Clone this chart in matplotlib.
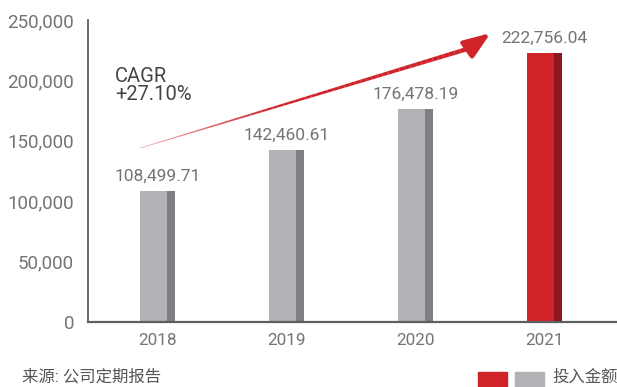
import numpy as np
import matplotlib
matplotlib.use('Agg')
import matplotlib.pyplot as plt
from matplotlib.collections import LineCollection
from matplotlib.patches import Rectangle

plt.rcParams['font.family'] = ['Roboto', 'Noto Sans CJK SC', 'DejaVu Sans']

years = ['2018', '2019', '2020', '2021']
amounts = [108499.71, 142460.61, 176478.19, 222756.04]
labels = ['108,499.71', '142,460.61', '176,478.19', '222,756.04']
yticks = [0, 50000, 100000, 150000, 200000, 250000]
ytick_labels = ['0', '50,000', '100,000', '150,000', '200,000', '250,000']
cagr_text = 'CAGR\n+27.10%'
source_text = '来源: 公司定期报告'
legend_text = '投入金额'

red = '#D0232A'
red_dark = '#8C171C'
grey = '#B2B2B6'
grey_dark = '#7F7F83'
txt = '#747474'

fig = plt.figure(figsize=(6.17, 3.87), dpi=100)
ax = fig.add_axes([88 / 617, 1 - 322 / 387, 1 - 88 / 617, (322 - 20) / 387])

x = np.arange(len(years))
face_w = 0.209
side_w = 0.062
face_colors = [grey, grey, grey, red]
side_colors = [grey_dark, grey_dark, grey_dark, red_dark]
ax.bar(x - 0.136, amounts, width=face_w, align='edge', color=face_colors, zorder=2)
ax.bar(x - 0.136 + face_w, amounts, width=side_w, align='edge', color=side_colors, zorder=2)

for xi, v, s in zip(x, amounts, labels):
    ax.text(xi, v + 5500, s, ha='center', va='bottom', fontsize=12.5, color=txt)

ax.set_xlim(-0.54, 3.56)
ax.set_ylim(0, 250000)
ax.set_xticks(x)
ax.set_xticklabels(years, fontsize=12.3, color=txt)
ax.set_yticks(yticks)
ax.set_yticklabels(ytick_labels, fontsize=13.5, color=txt)
ax.tick_params(length=0, pad=10)
ax.tick_params(axis='x', pad=8)
for s in ['top', 'right']:
    ax.spines[s].set_visible(False)
ax.spines['left'].set_color('#5E5E5E')
ax.spines['left'].set_linewidth(1.3)
ax.spines['bottom'].set_color('#5E5E5E')
ax.spines['bottom'].set_linewidth(1.6)

# growth arrow, thin and faded at the tail, thick at the head
x0, y0 = -0.136, 144000
x1, y1 = 2.43, 227000
n = 60
xs = np.linspace(x0, x1, n + 1)
ys = np.linspace(y0, y1, n + 1)
segs = [[(xs[i], ys[i]), (xs[i + 1], ys[i + 1])] for i in range(n)]
frac = np.linspace(0, 1, n)
widths = 0.5 + 2.7 * frac
cols = [matplotlib.colors.to_rgba(red, 0.4 + 0.6 * min(f * 2.5, 1)) for f in frac]
ax.add_collection(LineCollection(segs, linewidths=widths, colors=cols, zorder=3,
                                 capstyle='butt'))
ax.annotate('', xy=(2.58, 239200), xytext=(x1 - 0.02, y1 - 650),
            arrowprops=dict(arrowstyle='-|>,head_length=1.6,head_width=0.6',
                            color=red, lw=3.2, shrinkA=0, shrinkB=0), zorder=4)

ax.text(-0.33, 196000, cagr_text, ha='left', va='center', fontsize=14.5,
        color='#444444', linespacing=0.95)

fig.text(22 / 617, 1 - 377 / 387, source_text, ha='left', va='center',
         fontsize=11.8, color='#555555')

fig.patches.append(Rectangle((478 / 617, 0), 29 / 617, 15 / 387,
                             transform=fig.transFigure, color=red))
fig.patches.append(Rectangle((515 / 617, 0), 29 / 617, 15 / 387,
                             transform=fig.transFigure, color=grey))
fig.text(552 / 617, 1 - 377 / 387, legend_text, ha='left', va='center',
         fontsize=11.8, color='#555555')

fig.savefig('out.png', dpi=100)
